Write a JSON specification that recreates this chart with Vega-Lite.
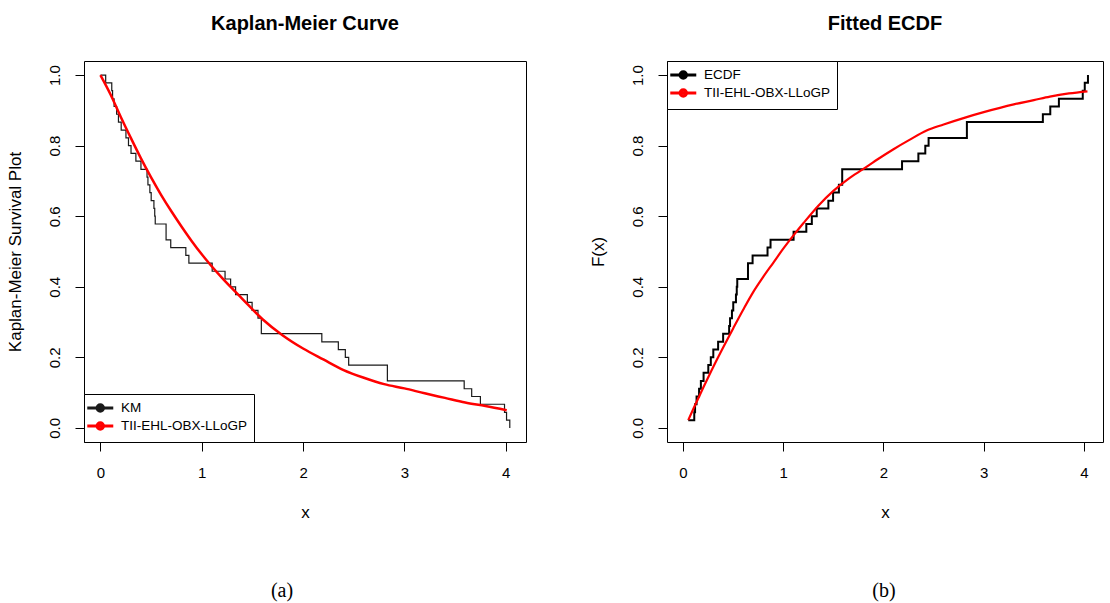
{
  "$schema": "https://vega.github.io/schema/vega-lite/v6.json",
  "background": "white",
  "padding": {"left": 5, "top": 13, "right": 5, "bottom": 5},
  "config": {
    "font": "Liberation Sans",
    "view": {"stroke": "black", "strokeWidth": 1},
    "axis": {
      "grid": false, "domain": false, "tickColor": "black", "tickSize": 9, "tickWidth": 1,
      "labelColor": "black", "labelFont": "Liberation Sans", "labelFontSize": 15,
      "titleFont": "Liberation Sans", "titleFontSize": 17, "titleFontWeight": "normal", "titleColor": "black",
      "labelFlush": false, "labelOverlap": false
    },
    "axisY": {"labelAngle": -90, "labelPadding": 13, "titlePadding": 23},
    "axisX": {"labelPadding": 14, "titlePadding": 24},
    "title": {"font": "Liberation Sans", "fontSize": 20, "fontWeight": "bold", "color": "black", "offset": 27},
    "legend": {
      "title": null, "offset": 0, "padding": 6, "strokeColor": "black", "fillColor": "white", "cornerRadius": 0,
      "symbolType": "M-1.65,0L2.35,0M0.85,0A0.5,0.5,0,1,1,-0.15,0A0.5,0.5,0,1,1,0.85,0Z",
      "symbolSize": 169, "symbolStrokeWidth": 3,
      "labelFont": "Liberation Sans", "labelFontSize": 13.5, "labelColor": "black", "labelOffset": 15,
      "rowPadding": -7, "labelLimit": 300
    }
  },
  "datasets": {
    "km": [
      {"t": 0, "surv": 1.0, "series": "KM"},
      {"t": 0.052, "surv": 0.978, "series": "KM"},
      {"t": 0.112, "surv": 0.956, "series": "KM"},
      {"t": 0.120, "surv": 0.933, "series": "KM"},
      {"t": 0.135, "surv": 0.911, "series": "KM"},
      {"t": 0.160, "surv": 0.889, "series": "KM"},
      {"t": 0.178, "surv": 0.867, "series": "KM"},
      {"t": 0.205, "surv": 0.844, "series": "KM"},
      {"t": 0.252, "surv": 0.822, "series": "KM"},
      {"t": 0.277, "surv": 0.800, "series": "KM"},
      {"t": 0.302, "surv": 0.778, "series": "KM"},
      {"t": 0.350, "surv": 0.756, "series": "KM"},
      {"t": 0.400, "surv": 0.733, "series": "KM"},
      {"t": 0.460, "surv": 0.711, "series": "KM"},
      {"t": 0.469, "surv": 0.689, "series": "KM"},
      {"t": 0.488, "surv": 0.667, "series": "KM"},
      {"t": 0.501, "surv": 0.644, "series": "KM"},
      {"t": 0.528, "surv": 0.622, "series": "KM"},
      {"t": 0.536, "surv": 0.600, "series": "KM"},
      {"t": 0.541, "surv": 0.578, "series": "KM"},
      {"t": 0.648, "surv": 0.533, "series": "KM"},
      {"t": 0.694, "surv": 0.511, "series": "KM"},
      {"t": 0.843, "surv": 0.489, "series": "KM"},
      {"t": 0.873, "surv": 0.467, "series": "KM"},
      {"t": 1.103, "surv": 0.444, "series": "KM"},
      {"t": 1.230, "surv": 0.422, "series": "KM"},
      {"t": 1.285, "surv": 0.400, "series": "KM"},
      {"t": 1.334, "surv": 0.378, "series": "KM"},
      {"t": 1.450, "surv": 0.356, "series": "KM"},
      {"t": 1.497, "surv": 0.333, "series": "KM"},
      {"t": 1.555, "surv": 0.311, "series": "KM"},
      {"t": 1.588, "surv": 0.267, "series": "KM"},
      {"t": 2.185, "surv": 0.244, "series": "KM"},
      {"t": 2.348, "surv": 0.222, "series": "KM"},
      {"t": 2.417, "surv": 0.200, "series": "KM"},
      {"t": 2.450, "surv": 0.178, "series": "KM"},
      {"t": 2.832, "surv": 0.133, "series": "KM"},
      {"t": 3.590, "surv": 0.111, "series": "KM"},
      {"t": 3.664, "surv": 0.089, "series": "KM"},
      {"t": 3.750, "surv": 0.067, "series": "KM"},
      {"t": 3.988, "surv": 0.044, "series": "KM"},
      {"t": 4.008, "surv": 0.022, "series": "KM"},
      {"t": 4.040, "surv": 0.0, "series": "KM"}
    ],
    "km_fit": [
      {"t": 0.0, "surv": 1.000, "series": "TII-EHL-OBX-LLoGP"},
      {"t": 0.1, "surv": 0.945, "series": "TII-EHL-OBX-LLoGP"},
      {"t": 0.2, "surv": 0.882, "series": "TII-EHL-OBX-LLoGP"},
      {"t": 0.3, "surv": 0.822, "series": "TII-EHL-OBX-LLoGP"},
      {"t": 0.4, "surv": 0.764, "series": "TII-EHL-OBX-LLoGP"},
      {"t": 0.5, "surv": 0.710, "series": "TII-EHL-OBX-LLoGP"},
      {"t": 0.6, "surv": 0.660, "series": "TII-EHL-OBX-LLoGP"},
      {"t": 0.7, "surv": 0.614, "series": "TII-EHL-OBX-LLoGP"},
      {"t": 0.8, "surv": 0.571, "series": "TII-EHL-OBX-LLoGP"},
      {"t": 0.9, "surv": 0.530, "series": "TII-EHL-OBX-LLoGP"},
      {"t": 1.0, "surv": 0.492, "series": "TII-EHL-OBX-LLoGP"},
      {"t": 1.2, "surv": 0.425, "series": "TII-EHL-OBX-LLoGP"},
      {"t": 1.4, "surv": 0.366, "series": "TII-EHL-OBX-LLoGP"},
      {"t": 1.6, "surv": 0.308, "series": "TII-EHL-OBX-LLoGP"},
      {"t": 1.8, "surv": 0.262, "series": "TII-EHL-OBX-LLoGP"},
      {"t": 2.0, "surv": 0.225, "series": "TII-EHL-OBX-LLoGP"},
      {"t": 2.2, "surv": 0.194, "series": "TII-EHL-OBX-LLoGP"},
      {"t": 2.4, "surv": 0.164, "series": "TII-EHL-OBX-LLoGP"},
      {"t": 2.6, "surv": 0.142, "series": "TII-EHL-OBX-LLoGP"},
      {"t": 2.8, "surv": 0.124, "series": "TII-EHL-OBX-LLoGP"},
      {"t": 3.0, "surv": 0.112, "series": "TII-EHL-OBX-LLoGP"},
      {"t": 3.2, "surv": 0.098, "series": "TII-EHL-OBX-LLoGP"},
      {"t": 3.4, "surv": 0.085, "series": "TII-EHL-OBX-LLoGP"},
      {"t": 3.6, "surv": 0.072, "series": "TII-EHL-OBX-LLoGP"},
      {"t": 3.8, "surv": 0.062, "series": "TII-EHL-OBX-LLoGP"},
      {"t": 4.01, "surv": 0.050, "series": "TII-EHL-OBX-LLoGP"}
    ],
    "ecdf": [
      {"t": 0.052, "cdf": 0.022, "series": "ECDF"},
      {"t": 0.112, "cdf": 0.044, "series": "ECDF"},
      {"t": 0.120, "cdf": 0.067, "series": "ECDF"},
      {"t": 0.135, "cdf": 0.089, "series": "ECDF"},
      {"t": 0.160, "cdf": 0.111, "series": "ECDF"},
      {"t": 0.178, "cdf": 0.133, "series": "ECDF"},
      {"t": 0.205, "cdf": 0.156, "series": "ECDF"},
      {"t": 0.252, "cdf": 0.178, "series": "ECDF"},
      {"t": 0.277, "cdf": 0.200, "series": "ECDF"},
      {"t": 0.302, "cdf": 0.222, "series": "ECDF"},
      {"t": 0.350, "cdf": 0.244, "series": "ECDF"},
      {"t": 0.400, "cdf": 0.267, "series": "ECDF"},
      {"t": 0.460, "cdf": 0.289, "series": "ECDF"},
      {"t": 0.469, "cdf": 0.311, "series": "ECDF"},
      {"t": 0.488, "cdf": 0.333, "series": "ECDF"},
      {"t": 0.501, "cdf": 0.356, "series": "ECDF"},
      {"t": 0.528, "cdf": 0.378, "series": "ECDF"},
      {"t": 0.536, "cdf": 0.400, "series": "ECDF"},
      {"t": 0.541, "cdf": 0.422, "series": "ECDF"},
      {"t": 0.648, "cdf": 0.467, "series": "ECDF"},
      {"t": 0.694, "cdf": 0.489, "series": "ECDF"},
      {"t": 0.843, "cdf": 0.511, "series": "ECDF"},
      {"t": 0.873, "cdf": 0.533, "series": "ECDF"},
      {"t": 1.103, "cdf": 0.556, "series": "ECDF"},
      {"t": 1.230, "cdf": 0.578, "series": "ECDF"},
      {"t": 1.285, "cdf": 0.600, "series": "ECDF"},
      {"t": 1.334, "cdf": 0.622, "series": "ECDF"},
      {"t": 1.450, "cdf": 0.644, "series": "ECDF"},
      {"t": 1.497, "cdf": 0.667, "series": "ECDF"},
      {"t": 1.555, "cdf": 0.689, "series": "ECDF"},
      {"t": 1.588, "cdf": 0.733, "series": "ECDF"},
      {"t": 2.185, "cdf": 0.756, "series": "ECDF"},
      {"t": 2.348, "cdf": 0.778, "series": "ECDF"},
      {"t": 2.417, "cdf": 0.800, "series": "ECDF"},
      {"t": 2.450, "cdf": 0.822, "series": "ECDF"},
      {"t": 2.832, "cdf": 0.867, "series": "ECDF"},
      {"t": 3.590, "cdf": 0.889, "series": "ECDF"},
      {"t": 3.664, "cdf": 0.911, "series": "ECDF"},
      {"t": 3.750, "cdf": 0.933, "series": "ECDF"},
      {"t": 3.988, "cdf": 0.956, "series": "ECDF"},
      {"t": 4.008, "cdf": 0.978, "series": "ECDF"},
      {"t": 4.040, "cdf": 1.0, "series": "ECDF"}
    ],
    "ecdf_fit": [
      {"t": 0.052, "cdf": 0.022, "series": "TII-EHL-OBX-LLoGP"},
      {"t": 0.1, "cdf": 0.052, "series": "TII-EHL-OBX-LLoGP"},
      {"t": 0.2, "cdf": 0.113, "series": "TII-EHL-OBX-LLoGP"},
      {"t": 0.3, "cdf": 0.172, "series": "TII-EHL-OBX-LLoGP"},
      {"t": 0.4, "cdf": 0.228, "series": "TII-EHL-OBX-LLoGP"},
      {"t": 0.5, "cdf": 0.282, "series": "TII-EHL-OBX-LLoGP"},
      {"t": 0.6, "cdf": 0.335, "series": "TII-EHL-OBX-LLoGP"},
      {"t": 0.7, "cdf": 0.385, "series": "TII-EHL-OBX-LLoGP"},
      {"t": 0.8, "cdf": 0.428, "series": "TII-EHL-OBX-LLoGP"},
      {"t": 0.9, "cdf": 0.468, "series": "TII-EHL-OBX-LLoGP"},
      {"t": 1.0, "cdf": 0.508, "series": "TII-EHL-OBX-LLoGP"},
      {"t": 1.1, "cdf": 0.545, "series": "TII-EHL-OBX-LLoGP"},
      {"t": 1.2, "cdf": 0.580, "series": "TII-EHL-OBX-LLoGP"},
      {"t": 1.35, "cdf": 0.630, "series": "TII-EHL-OBX-LLoGP"},
      {"t": 1.5, "cdf": 0.672, "series": "TII-EHL-OBX-LLoGP"},
      {"t": 1.65, "cdf": 0.706, "series": "TII-EHL-OBX-LLoGP"},
      {"t": 1.8, "cdf": 0.734, "series": "TII-EHL-OBX-LLoGP"},
      {"t": 1.95, "cdf": 0.763, "series": "TII-EHL-OBX-LLoGP"},
      {"t": 2.1, "cdf": 0.790, "series": "TII-EHL-OBX-LLoGP"},
      {"t": 2.25, "cdf": 0.815, "series": "TII-EHL-OBX-LLoGP"},
      {"t": 2.43, "cdf": 0.843, "series": "TII-EHL-OBX-LLoGP"},
      {"t": 2.6, "cdf": 0.860, "series": "TII-EHL-OBX-LLoGP"},
      {"t": 2.83, "cdf": 0.881, "series": "TII-EHL-OBX-LLoGP"},
      {"t": 3.0, "cdf": 0.895, "series": "TII-EHL-OBX-LLoGP"},
      {"t": 3.3, "cdf": 0.917, "series": "TII-EHL-OBX-LLoGP"},
      {"t": 3.5, "cdf": 0.929, "series": "TII-EHL-OBX-LLoGP"},
      {"t": 3.66, "cdf": 0.939, "series": "TII-EHL-OBX-LLoGP"},
      {"t": 3.85, "cdf": 0.948, "series": "TII-EHL-OBX-LLoGP"},
      {"t": 4.035, "cdf": 0.954, "series": "TII-EHL-OBX-LLoGP"}
    ]
  },
  "spacing": 61,
  "resolve": {"scale": {"color": "independent"}, "legend": {"color": "independent"}},
  "hconcat": [
    {
      "title": {"text": "(a)", "orient": "bottom", "anchor": "middle", "frame": "bounds", "font": "Liberation Serif", "fontSize": 20, "fontWeight": "normal", "offset": 60, "dx": 16},
      "resolve": {"scale": {"color": "independent"}, "legend": {"color": "independent"}},
      "vconcat": [
        {
          "title": {"text": "Kaplan-Meier Curve", "anchor": "middle"},
          "width": 442,
          "height": 381,
          "encoding": {
            "x": {"field": "t", "type": "quantitative", "title": "x",
                  "scale": {"domain": [-0.162, 4.2], "nice": false, "zero": false},
                  "axis": {"values": [0, 1, 2, 3, 4]}},
            "y": {"field": "surv", "type": "quantitative", "title": "Kaplan-Meier Survival Plot",
                  "scale": {"domain": [-0.04, 1.04], "nice": false, "zero": false},
                  "axis": {"values": [0, 0.2, 0.4, 0.6, 0.8, 1.0], "format": ".1f"}},
            "color": {"field": "series", "type": "nominal",
                      "scale": {"domain": ["KM", "TII-EHL-OBX-LLoGP"], "range": ["#1a1a1a", "#ff0000"]},
                      "legend": {"orient": "bottom-left",
                                 "encode": {"symbols": {"update": {
                                   "stroke": {"signal": "datum.value === 'KM' ? '#000000' : '#DF536B'"},
                                   "fill": {"signal": "datum.value === 'KM' ? '#000000' : '#DF536B'"},
                                   "opacity": {"value": 1}}}}}}
          },
          "layer": [
            {"data": {"name": "km"}, "mark": {"type": "line", "interpolate": "step-after", "strokeWidth": 1.2}},
            {"data": {"name": "km_fit"}, "mark": {"type": "line", "interpolate": "monotone", "strokeWidth": 2.5}}
          ]
        }
      ]
    },
    {
      "title": {"text": "(b)", "orient": "bottom", "anchor": "middle", "frame": "bounds", "font": "Liberation Serif", "fontSize": 20, "fontWeight": "normal", "offset": 60, "dx": 38},
      "resolve": {"scale": {"color": "independent"}, "legend": {"color": "independent"}},
      "vconcat": [
        {
          "title": {"text": "Fitted ECDF", "anchor": "middle"},
          "width": 436,
          "height": 381,
          "encoding": {
            "x": {"field": "t", "type": "quantitative", "title": "x",
                  "scale": {"domain": [-0.16, 4.19], "nice": false, "zero": false},
                  "axis": {"values": [0, 1, 2, 3, 4]}},
            "y": {"field": "cdf", "type": "quantitative", "title": "F(x)",
                  "scale": {"domain": [-0.04, 1.04], "nice": false, "zero": false},
                  "axis": {"values": [0, 0.2, 0.4, 0.6, 0.8, 1.0], "format": ".1f"}},
            "color": {"field": "series", "type": "nominal",
                      "scale": {"domain": ["ECDF", "TII-EHL-OBX-LLoGP"], "range": ["#000000", "#ff0000"]},
                      "legend": {"orient": "top-left",
                                 "encode": {"symbols": {"update": {
                                   "stroke": {"signal": "datum.value === 'ECDF' ? '#000000' : '#DF536B'"},
                                   "fill": {"signal": "datum.value === 'ECDF' ? '#000000' : '#DF536B'"},
                                   "opacity": {"value": 1}}}}}}
          },
          "layer": [
            {"data": {"name": "ecdf"}, "mark": {"type": "line", "interpolate": "step-after", "strokeWidth": 2}},
            {"data": {"name": "ecdf_fit"}, "mark": {"type": "line", "interpolate": "monotone", "strokeWidth": 2.2}}
          ]
        }
      ]
    }
  ]
}
